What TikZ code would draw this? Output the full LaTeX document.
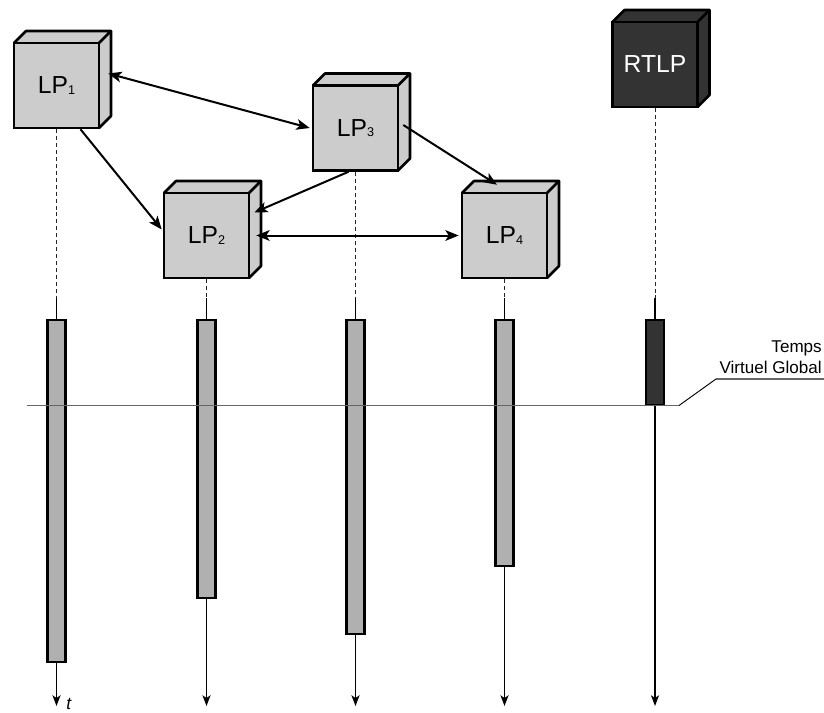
\documentclass[tikz,border=0pt]{standalone}
\usepackage{fontspec}
\setmainfont{Liberation Sans}
\usetikzlibrary{arrows.meta,calc}
\definecolor{boxgray}{HTML}{CCCCCC}
\definecolor{bargray}{HTML}{B0B0B0}
\definecolor{darkbox}{HTML}{333333}
\tikzset{
  cubefront/.style={draw=black, line width=1.9pt, minimum width=63.75pt, minimum height=63.75pt, inner sep=0pt, font=\fontsize{18.5}{18.5}\selectfont},
  cubeface/.style={draw=black, line width=1.9pt, line join=round},
  lifedash/.style={draw=black!85, line width=0.75pt, dash pattern=on 3pt off 2.2pt},
  lifesolid/.style={draw=black, line width=1.3pt},
  barbox/.style={draw=black, line width=1.6pt, minimum width=13.5pt, inner sep=0pt},
  msg/.style={line width=1.5pt, -{Stealth[length=10pt,width=8pt,inset=2.5pt]}},
  msgboth/.style={line width=1.5pt, {Stealth[length=10pt,width=8pt,inset=2.5pt]}-{Stealth[length=10pt,width=8pt,inset=2.5pt]}},
  timearrow/.style={line width=1.3pt, -{Stealth[length=8pt,width=6pt,inset=2pt]}},
  gvt/.style={draw=black!60, line width=0.8pt}
}
\newcommand{\mycube}[5]{%
  % #1 name, #2 x, #3 y (center of front), #4 fill, #5 label
  \fill[#4] ($(#2,#3)+(-42.5,-42.5)$) -- ++(12,-12) -- ++(85,0) -- ++(0,85) -- ++(-12,12) -- ++(-85,0) -- cycle;
  \draw[cubeface] ($(#2,#3)+(-42.5,-42.5)$) -- ++(12,-12) -- ++(85,0) -- ++(-12,12);
  \draw[cubeface] ($(#2,#3)+(42.5,-42.5)$) ++(12,-12) -- ++(0,85) -- ++(-12,12);
  \node[cubefront, fill=#4] (#1) at (#2,#3) {#5};
}
\newcommand{\lpsub}[1]{\raisebox{-0.3pt}{\fontsize{9.5}{9.5}\selectfont #1}}
\begin{document}
\begin{tikzpicture}[x=0.75pt,y=-0.75pt]
\useasboundingbox (0,0) rectangle (824,713);

% cubes
\mycube{lp1}{56.5}{85.5}{boxgray}{LP\lpsub{1}}
\mycube{lp2}{206.5}{235.5}{boxgray}{LP\lpsub{2}}
\mycube{lp3}{355.5}{128}{boxgray}{LP\lpsub{3}}
\mycube{lp4}{504.5}{235.5}{boxgray}{LP\lpsub{4}}
\mycube{rtlp}{655}{64.5}{darkbox}{\textcolor{white}{RTLP}}

% lifeline coordinates
\foreach \n/\x in {lp1/56.5,lp2/206.5,lp3/355.5,lp4/504.5,rtlp/655}{
  \coordinate (\n d) at (\x,298);
  \coordinate (\n e) at (\x,706);
}

% bars
\node[barbox, fill=bargray, minimum height=256.5pt] (b1) at (56.5,491) {};
\node[barbox, fill=bargray, minimum height=208.5pt] (b2) at (206.5,459) {};
\node[barbox, fill=bargray, minimum height=235.5pt] (b3) at (355.5,477) {};
\node[barbox, fill=bargray, minimum height=184.5pt] (b4) at (504.5,443) {};
\node[barbox, fill=darkbox, minimum height=63.75pt] (b5) at (655,362.5) {};

% lifelines
\foreach \n/\b in {lp1/b1,lp2/b2,lp3/b3,lp4/b4,rtlp/b5}{
  \draw[lifedash] (\n.south) -- (\n d);
  \draw[lifesolid] (\n d) -- (\b.north);
  \draw[timearrow] (\b.south) -- (\n e);
}

% GVT line
\coordinate (g0) at (27,405.5);
\coordinate (g1) at (679,405.5);
\coordinate (g2) at (716,379);
\coordinate (g3) at (824,379);
\draw[gvt] (g0) -- (g1);
\draw[black, line width=0.7pt] (g1) -- (g2);
\draw[gvt] (g2) -- (g3);
\node[anchor=south east, inner sep=0pt, align=right, font=\fontsize{12.8}{16}\selectfont] (lbl) at (822,374) {Temps\\Virtuel Global};

% t label
\node[anchor=base west, inner sep=0pt, font=\fontsize{13}{13}\selectfont\itshape] (tl) at (66,709) {t};

% messages
\draw[msgboth] ([shift={(8,-12)}]lp1.east) -- ([shift={(-2,0)}]lp3.west);
\draw[msg] ([shift={(24,0)}]lp1.south) -- ([shift={(-1,-6)}]lp2.west);
\draw[msg] ([shift={(-7,0)}]lp3.south) -- ([shift={(4,-23)}]lp2.east);
\draw[msgboth] ([shift={(6,0)}]lp2.east) -- ([shift={(-2,0)}]lp4.west);
\draw[msg] ([shift={(4,-3)}]lp3.east) -- ([shift={(-7.5,-7)}]lp4.north);
\end{tikzpicture}
\end{document}
